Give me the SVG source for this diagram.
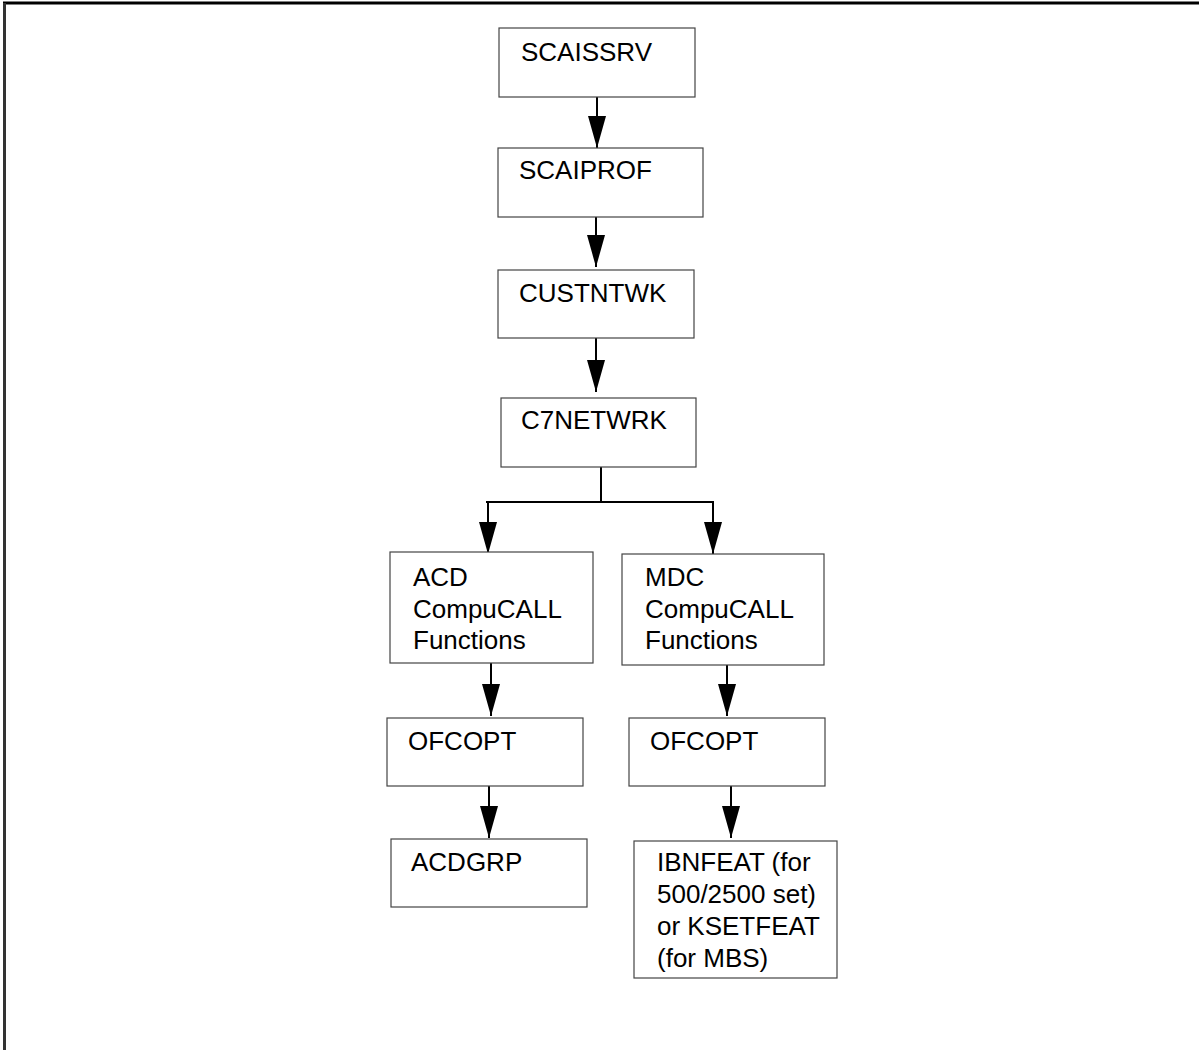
<svg xmlns="http://www.w3.org/2000/svg" width="1199" height="1050" viewBox="0 0 1199 1050">
<defs>
<style>
.box{fill:#fff;stroke:#444;stroke-width:1.2}
.t{font-family:"Liberation Sans",Arial,sans-serif;font-size:26px;fill:#000}
.c{fill:none;stroke:#000;stroke-width:2}
</style>
<marker id="ah" markerUnits="userSpaceOnUse" viewBox="0 0 32 18" refX="32" refY="9" markerWidth="32" markerHeight="18" orient="auto">
<path d="M0,0 L32,9 L0,18 Z" fill="#000"/>
</marker>
</defs>
<rect width="1199" height="1050" fill="#fff"/>
<line x1="3" y1="3" x2="1199" y2="3" stroke="#000" stroke-width="3"/>
<line x1="4.5" y1="3" x2="4.5" y2="1050" stroke="#333" stroke-width="3"/>
<g id="connectors">
<line class="c" x1="597" y1="97" x2="597" y2="148" marker-end="url(#ah)"/>
<line class="c" x1="596" y1="217" x2="596" y2="267" marker-end="url(#ah)"/>
<line class="c" x1="596" y1="338" x2="596" y2="392" marker-end="url(#ah)"/>
<polyline class="c" points="601,467 601,502"/>
<line class="c" x1="486" y1="502" x2="714" y2="502"/>
<line class="c" x1="488" y1="502" x2="488" y2="554" marker-end="url(#ah)"/>
<line class="c" x1="713" y1="502" x2="713" y2="554" marker-end="url(#ah)"/>
<line class="c" x1="491" y1="663" x2="491" y2="716" marker-end="url(#ah)"/>
<line class="c" x1="727" y1="665" x2="727" y2="716" marker-end="url(#ah)"/>
<line class="c" x1="489" y1="786" x2="489" y2="838" marker-end="url(#ah)"/>
<line class="c" x1="731" y1="786" x2="731" y2="838" marker-end="url(#ah)"/>
</g>
<g id="scaissrv"><rect class="box" x="499" y="28" width="196" height="69"/><text class="t" x="521" y="61">SCAISSRV</text></g>
<g id="scaiprof"><rect class="box" x="498" y="148" width="205" height="69"/><text class="t" x="519" y="179">SCAIPROF</text></g>
<g id="custntwk"><rect class="box" x="498" y="270" width="196" height="68"/><text class="t" x="519" y="302">CUSTNTWK</text></g>
<g id="c7netwrk"><rect class="box" x="501" y="398" width="195" height="69"/><text class="t" x="521" y="429">C7NETWRK</text></g>
<g id="acd"><rect class="box" x="390" y="552" width="203" height="111"/><text class="t" x="413" y="586">ACD</text><text class="t" x="413" y="618">CompuCALL</text><text class="t" x="413" y="649">Functions</text></g>
<g id="mdc"><rect class="box" x="622" y="554" width="202" height="111"/><text class="t" x="645" y="586">MDC</text><text class="t" x="645" y="618">CompuCALL</text><text class="t" x="645" y="649">Functions</text></g>
<g id="ofcopt1"><rect class="box" x="387" y="718" width="196" height="68"/><text class="t" x="408" y="750">OFCOPT</text></g>
<g id="ofcopt2"><rect class="box" x="629" y="718" width="196" height="68"/><text class="t" x="650" y="750">OFCOPT</text></g>
<g id="acdgrp"><rect class="box" x="391" y="839" width="196" height="68"/><text class="t" x="411" y="871">ACDGRP</text></g>
<g id="ibnfeat"><rect class="box" x="634" y="841" width="203" height="137"/><text class="t" x="657" y="871">IBNFEAT (for</text><text class="t" x="657" y="903">500/2500 set)</text><text class="t" x="657" y="935">or KSETFEAT</text><text class="t" x="657" y="967">(for MBS)</text></g>
</svg>
